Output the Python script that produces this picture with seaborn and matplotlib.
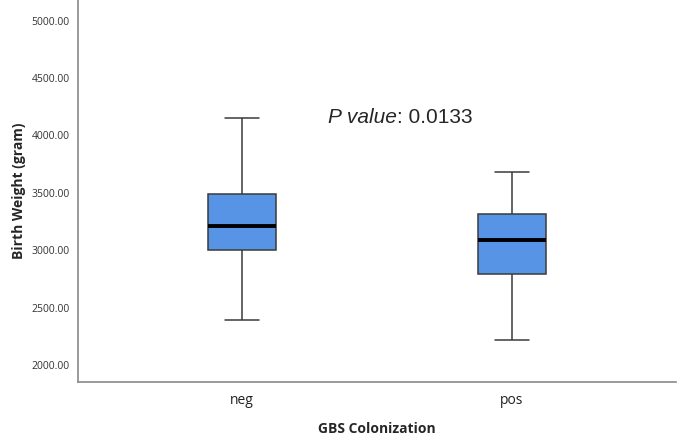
import pandas as pd
import seaborn as sns
import matplotlib.pyplot as plt

# five-number summaries (min, q1, median, q3, max)
groups = ['neg', 'pos']
neg_summary = [2394, 3000, 3213, 3490, 4149]
pos_summary = [2215, 2790, 3086, 3313, 3684]
y_ticks = [2000, 2500, 3000, 3500, 4000, 4500, 5000]
p_value = '0.0133'

df = pd.DataFrame({
    'GBS Colonization': [groups[0]] * len(neg_summary) + [groups[1]] * len(pos_summary),
    'Birth Weight (gram)': neg_summary + pos_summary,
})

sns.set_style('white')
plt.rcParams['font.family'] = ['Open Sans', 'DejaVu Sans']

fig = plt.figure(figsize=(6.83, 4.43), dpi=100)
ax = fig.add_axes([78 / 683, 61 / 443, 598 / 683, 382 / 443])

sns.boxplot(data=df, x='GBS Colonization', y='Birth Weight (gram)', ax=ax,
            width=0.25, color='#5794E6', linecolor='#3a3a3a', linewidth=1.1,
            whis=1.5, saturation=1,
            medianprops=dict(color='black', linewidth=2.8))

ax.set_xlim(-0.607, 1.607)
ax.set_ylim(1852, 5180)
ax.set_yticks(y_ticks)
ax.set_yticklabels([f'{v:.2f}' for v in y_ticks], fontsize=7.5, color='#333333')
ax.tick_params(axis='x', labelsize=10, colors='#222222', length=0, pad=8)
ax.tick_params(axis='y', length=0, pad=6)

ax.set_xlabel('GBS Colonization', fontweight='bold', fontsize=10, labelpad=10)
ax.set_ylabel('Birth Weight (gram)', fontweight='bold', fontsize=10, labelpad=4)

for side in ['top', 'right']:
    ax.spines[side].set_visible(False)
for side in ['left', 'bottom']:
    ax.spines[side].set_color('#8a8a8a')
    ax.spines[side].set_linewidth(1.2)

# p value: italic label followed by the plain number
t1 = ax.text(0.319, 4160, 'P value', style='italic', fontsize=15,
             family='Liberation Sans', ha='left', va='center')
ax.annotate(': ' + p_value, xy=(1, 0.5), xycoords=t1, fontsize=15,
            family='Liberation Sans', ha='left', va='center')

fig.savefig('out.png', dpi=100)
